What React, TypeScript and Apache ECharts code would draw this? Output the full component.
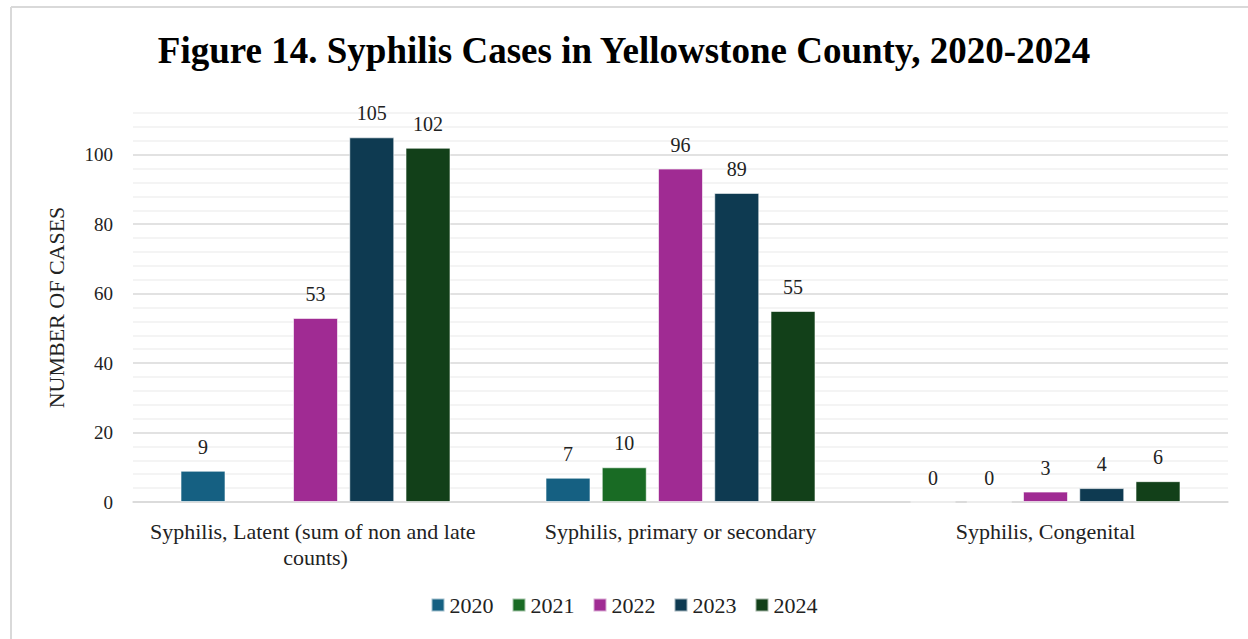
import React, { useEffect, useRef } from "react";
import * as echarts from "echarts";

const TITLE = "Figure 14. Syphilis Cases in Yellowstone County, 2020-2024";
const Y_AXIS_NAME = "NUMBER OF CASES";
const categories = [
  "Syphilis, Latent (sum of non and late counts)",
  "Syphilis, primary or secondary",
  "Syphilis, Congenital",
];
const years = ["2020", "2021", "2022", "2023", "2024"];
const values2020 = [9, 7, 0];
const values2021 = [null, 10, 0];
const values2022 = [53, 96, 3];
const values2023 = [105, 89, 4];
const values2024 = [102, 55, 6];
const seriesValues = [values2020, values2021, values2022, values2023, values2024];
const colors = ["#156082", "#196b24", "#a02b93", "#0e3a51", "#124019"];
const yMin = 0;
const yMax = 112;
const yStep = 4;
const yLabelStep = 20;

const FONT = "'Liberation Serif', 'DejaVu Serif', serif";

export default function App() {
  const ref = useRef<HTMLDivElement>(null);
  useEffect(() => {
    if (!ref.current) return;
    const chart = echarts.init(ref.current, null, { renderer: "svg" });
    chart.setOption({
      animation: false,
      textStyle: { fontFamily: FONT },
      title: {
        text: TITLE,
        left: "center",
        top: 27,
        textStyle: { fontFamily: FONT, fontSize: 37, fontWeight: "bold", color: "#000" },
      },
      graphic: [
        { type: "line", shape: { x1: 11, y1: 7, x2: 1248, y2: 7 }, style: { stroke: "#d9d9d9", lineWidth: 2 } },
        { type: "line", shape: { x1: 11, y1: 7, x2: 11, y2: 639 }, style: { stroke: "#d9d9d9", lineWidth: 2 } },
      ],
      legend: {
        bottom: 18,
        left: "center",
        itemWidth: 13,
        itemHeight: 13,
        itemGap: 18,
        icon: "rect",
        textStyle: { fontFamily: FONT, fontSize: 22, color: "#222" },
        data: years,
      },
      grid: { left: 133, right: 20, top: 113, bottom: 137 },
      xAxis: {
        type: "category",
        data: categories,
        axisLine: { lineStyle: { color: "#d9d9d9", width: 1.5 } },
        axisTick: { show: false },
        axisLabel: {
          fontFamily: FONT,
          fontSize: 22,
          color: "#222",
          margin: 16,
          width: 360,
          overflow: "break",
          lineHeight: 26,
          interval: 0,
        },
      },
      yAxis: {
        type: "value",
        min: yMin,
        max: yMax,
        interval: yStep,
        name: Y_AXIS_NAME,
        nameLocation: "middle",
        nameGap: 66,
        nameTextStyle: { fontFamily: FONT, fontSize: 22, color: "#222" },
        axisLine: { show: false },
        axisTick: { show: false },
        axisLabel: {
          fontFamily: FONT,
          fontSize: 19,
          color: "#222",
          margin: 20,
          formatter: (v: number) => (v % yLabelStep === 0 ? String(v) : ""),
        },
        splitLine: {
          lineStyle: {
            color: ["#d9d9d9", "#f0f0f0", "#f0f0f0", "#f0f0f0", "#f0f0f0"],
            width: 1.5,
          },
        },
      },
      series: years.map((y, i) => ({
        name: y,
        type: "bar",
        data: seriesValues[i],
        barWidth: 45,
        barGap: "25%",
        itemStyle: { color: colors[i], borderColor: "rgba(255,255,255,0.6)", borderWidth: 1 },
        label: {
          show: true,
          position: "top",
          distance: 14,
          fontFamily: FONT,
          fontSize: 20,
          color: "#222",
        },
      })),
    });
    return () => chart.dispose();
  }, []);
  return (
    <div
      ref={ref}
      style={{ position: "absolute", left: 0, top: 0, width: 1248, height: 639, background: "#fff" }}
    />
  );
}
